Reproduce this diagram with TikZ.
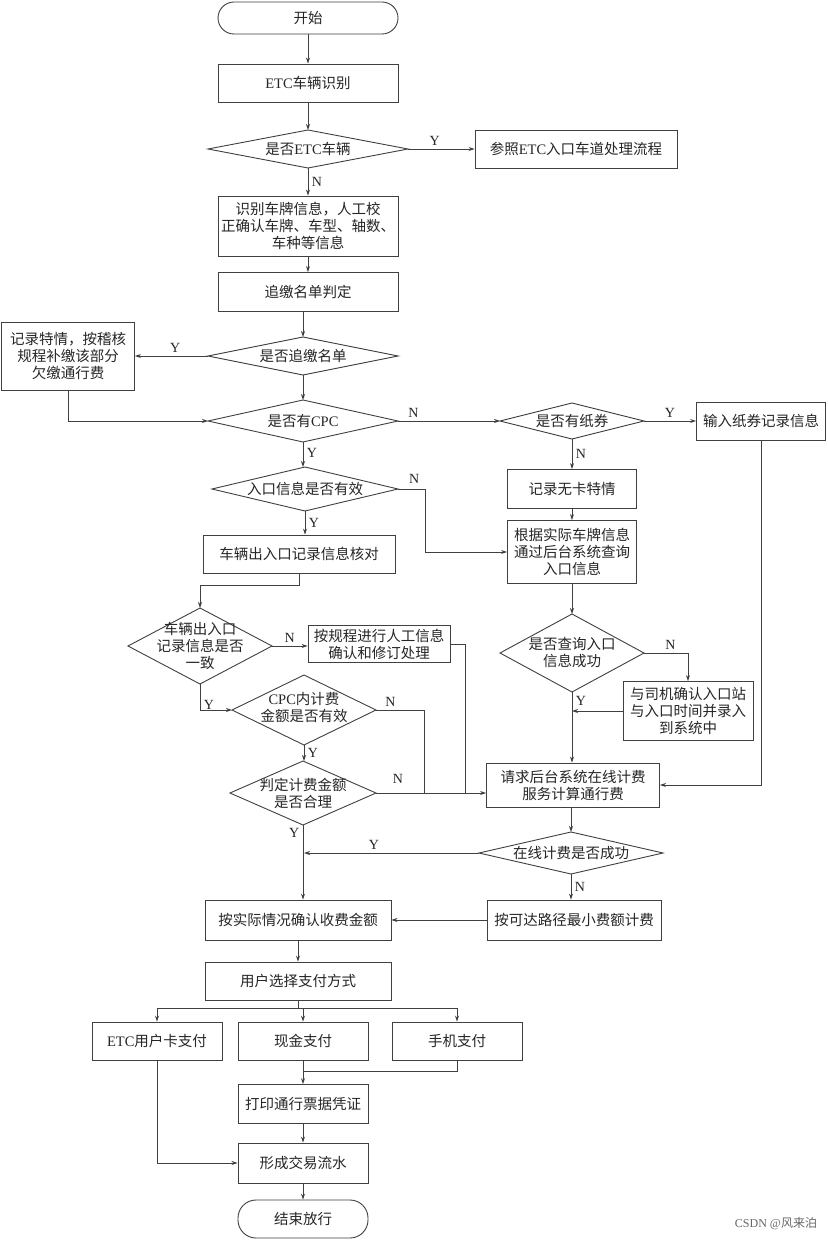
\documentclass[tikz,border=0pt]{standalone}
\usepackage{fontspec}
\setmainfont{Liberation Serif}
\newfontfamily\cjk{Noto Sans CJK SC}
\usetikzlibrary{shapes.geometric,arrows.meta}
\begin{document}
\begin{tikzpicture}[x=1pt,y=-1pt,
  every node/.style={font=\cjk\fontsize{14.5}{17}\selectfont, text=black!85, align=center},
  ln/.style={draw=black!75, line width=0.9pt},
  ar/.style={ln, -{Stealth[length=6pt,width=4pt]}},
  box/.style={ln, rectangle, minimum width=#1, minimum height=38pt, inner sep=1pt, align=center},
  box/.default=180pt,
  lb/.style={font=\fontsize{14}{16}\selectfont}]
\useasboundingbox (0,0) rectangle (827,1241);
\fill[white] (0,0) rectangle (827,1241);
\node[ln,rectangle,rounded corners=16pt,minimum width=180pt,minimum height=32pt] (start) at (308,18) {开始};
\node[box] (etc) at (308,83) {{\rmfamily ETC}车辆识别};
\newcommand{\dmd}[5]{\draw[ln] (#2-#4,#3) -- (#2,#3-#5) -- (#2+#4,#3) -- (#2,#3+#5) -- cycle;
  \coordinate (#1-w) at (#2-#4,#3); \coordinate (#1-e) at (#2+#4,#3);
  \coordinate (#1-n) at (#2,#3-#5); \coordinate (#1-s) at (#2,#3+#5);}
\dmd{d1}{308}{149}{100}{19}
\node (t1) at (308,149) {是否{\rmfamily ETC}车辆};
\node[box=202pt] (ref) at (576,149) {参照{\rmfamily ETC}入口车道处理流程};
\node[box,minimum height=60pt] (plate) at (308,226) {识别车牌信息，人工校\\正确认车牌、车型、轴数、\\车种等信息};
\node[box,minimum height=39pt] (zj) at (308,292) {追缴名单判定};
\dmd{d2}{303}{356}{95}{19}
\node at (303,356) {是否追缴名单};
\node[box=133pt,minimum height=68pt] (rec) at (68,356) {记录特情，按稽核\\规程补缴该部分\\欠缴通行费};
\dmd{d3}{303}{421}{95}{21}
\node at (303,421) {是否有{\rmfamily CPC}};
\dmd{d4}{572}{421}{72}{18}
\node at (572,421) {是否有纸券};
\node[box=129pt] (paper) at (761,421) {输入纸券记录信息};
\node[box=129pt,minimum height=39pt] (nocard) at (572,489) {记录无卡特情};
\node[box=129pt,minimum height=63pt] (query) at (572,552) {根据实际车牌信息\\通过后台系统查询\\入口信息};
\dmd{d5}{305}{489}{93}{22}
\node at (305,489) {入口信息是否有效};
\node[box=192pt] (check) at (299,554) {车辆出入口记录信息核对};
\dmd{d6}{200}{646}{72}{38}
\node at (200,646) {车辆出入口\\记录信息是否\\一致};
\node[box=142pt,minimum height=37pt] (manual) at (379,644) {按规程进行人工信息\\确认和修订处理};
\dmd{d7}{304}{710}{72}{35}
\node at (304,708) {{\rmfamily CPC}内计费\\金额是否有效};
\dmd{d8}{303}{793}{73}{32}
\node at (303,793) {判定计费金额\\是否合理};
\dmd{d9}{572}{653}{72}{39}
\node at (572,653) {是否查询入口\\信息成功};
\node[box=130pt,minimum height=59pt] (driver) at (688,711) {与司机确认入口站\\与入口时间并录入\\到系统中};
\node[box=173pt,minimum height=44pt] (req) at (573,785) {请求后台系统在线计费\\服务计算通行费};
\dmd{d10}{571}{853}{92}{21}
\node at (571,853) {在线计费是否成功};
\node[box=174pt,minimum height=40pt] (min) at (574,920) {按可达路径最小费额计费};
\node[box=186pt,minimum height=40pt] (confirm) at (298,920) {按实际情况确认收费金额};
\node[box=186pt,minimum height=38pt] (choose) at (298,981) {用户选择支付方式};
\node[box=130pt,minimum height=38pt] (p1) at (157,1041) {{\rmfamily ETC}用户卡支付};
\node[box=130pt,minimum height=38pt] (p2) at (303,1041) {现金支付};
\node[box=130pt,minimum height=38pt] (p3) at (457,1041) {手机支付};
\node[box=130pt,minimum height=39pt] (print) at (303,1104) {打印通行票据凭证};
\node[box=130pt,minimum height=40pt] (flow) at (303,1163) {形成交易流水};
\node[ln,rectangle,rounded corners=18pt,minimum width=130pt,minimum height=38pt] (end) at (303,1219) {结束放行};
\node[text=black!60,font=\fontsize{12}{14}\selectfont] at (776,1224) {CSDN @{\cjk 风来泊}};
% connectors
\draw[ar] (start) -- (etc);
\draw[ar] (etc) -- (d1-n);
\draw[ar] (d1-e) -- (ref) node[lb,pos=0.4,above] {Y};
\draw[ar] (d1-s) -- (plate) node[lb,pos=0.5,right] {N};
\draw[ar] (plate) -- (zj);
\draw[ar] (zj.south -| d2-n) -- (d2-n);
\draw[ar] (d2-w) -- (rec.east) node[lb,pos=0.45,above] {Y};
\draw[ar] (rec.south) |- (d3-w);
\draw[ar] (d2-s) -- (d3-n);
\draw[ar] (d3-e) -- (d4-w) node[lb,pos=0.15,above] {N};
\draw[ar] (d4-e) -- (paper.west) node[lb,pos=0.5,above] {Y};
\draw[ar] (d4-s) -- (nocard) node[lb,pos=0.5,right] {N};
\draw[ar] (nocard) -- (query);
\draw[ar] (d3-s) -- (d5-n -| d3-s) node[lb,pos=0.45,right] {Y};
\draw[ar] (d5-e) -- (425,489) node[lb,pos=0.6,above=2pt] {N} |- (query.west);
\draw[ar] (d5-s) -- (check.north -| d5-s) node[lb,pos=0.5,right] {Y};
\draw[ar] (check.south) |- (200,585) -- (d6-n);
\draw[ar] (d6-e) -- (manual.west |- d6-e) node[lb,pos=0.5,above] {N};
\draw[ar] (d6-s) |- (d7-w) node[lb,pos=0.4,right] {Y};
\draw[ar] (d7-s) -- (d8-n -| d7-s) node[lb,pos=0.5,right] {Y};
\draw[ln] (d7-e) -| (424,793) node[lb,pos=0.15,above] {N};
\draw[ln] (manual.east) -| (465,793);
\draw[ar] (d8-e) -- (req.west |- d8-e) node[lb,pos=0.2,above=6pt] {N};
\draw[ar] (query) -- (d9-n);
\draw[ar] (d9-e) -| (driver.north) node[lb,pos=0.3,above] {N};
\draw[ar] (d9-s) -- (req.north -| d9-s) node[lb,pos=0.12,right] {Y};
\draw[ar] (driver.west) -- (572,711);
\draw[ar] (paper.south) |- (req.east);
\draw[ar] (req.south -| d10-n) -- (d10-n);
\draw[ar] (d10-w) -- (304,853) node[lb,pos=0.6,above] {Y};
\draw[ar] (d10-s) -- (min.north -| d10-s) node[lb,pos=0.5,right] {N};
\draw[ar] (min.west) -- (confirm.east);
\draw[ar] (d8-s) -- (confirm.north -| d8-s) node[lb,pos=0.1,left] {Y};
\draw[ar] (confirm) -- (choose);
\draw[ln] (choose.south) -- (298,1008);
\draw[ar] (157,1008) -- (p1.north);
\draw[ar] (p1.north |- 0,1008) -- (p3.north |- 0,1008) -- (p3.north);
\draw[ar] (p2.north |- 0,1008) -- (p2.north);
\draw[ln] (p3.south) |- (303,1071);
\draw[ar] (p2.south) -- (print.north);
\draw[ar] (print) -- (flow);
\draw[ar] (p1.south) |- (flow.west);
\draw[ar] (flow) -- (end);
\end{tikzpicture}
\end{document}
